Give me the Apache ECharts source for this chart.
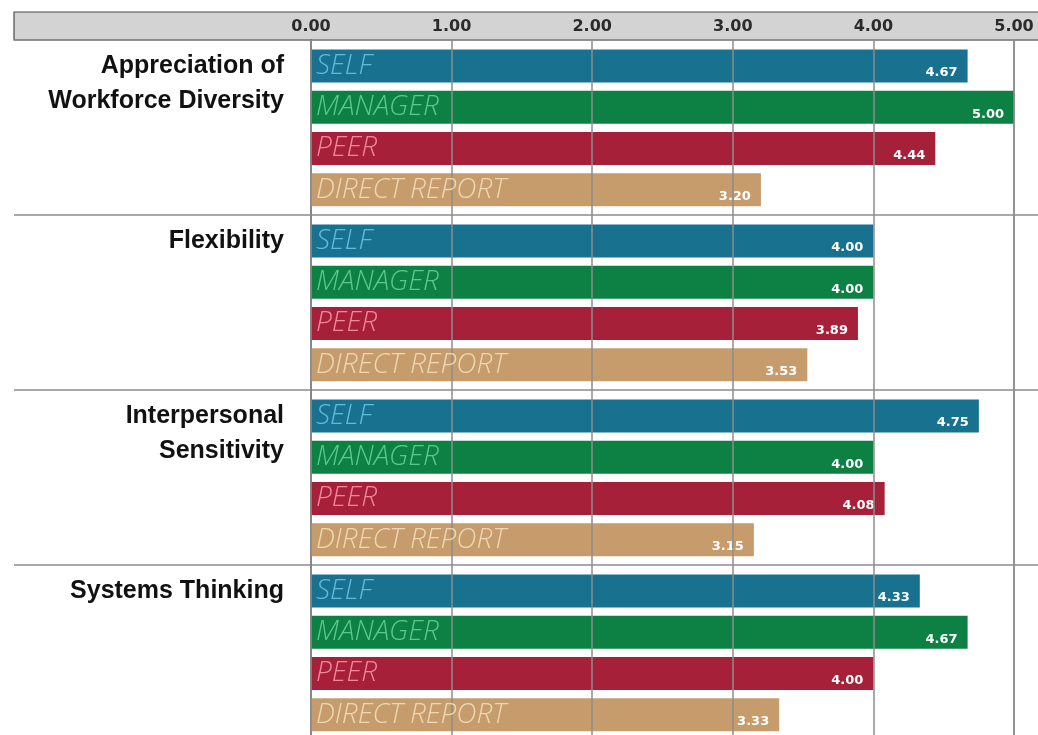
<!DOCTYPE html>
<html>
<head>
<meta charset="utf-8">
<title>Competency Ratings by Rater Group</title>
<script src="https://cdn.jsdelivr.net/npm/echarts@6/dist/echarts.min.js"></script>
<style>
  html, body { margin: 0; padding: 0; background: #ffffff; }
  #chart { width: 1038px; height: 735px; }
</style>
</head>
<body>
<div id="chart"></div>
<script>
// Competency groups and rater types
const competencies = ['Appreciation of\nWorkforce Diversity', 'Flexibility', 'Interpersonal\nSensitivity', 'Systems Thinking'];
const raters = ['SELF', 'MANAGER', 'PEER', 'DIRECT REPORT'];

// Average score per competency, one array per rater type
const selfScores = [4.67, 4.00, 4.75, 4.33];
const managerScores = [5.00, 4.00, 4.00, 4.67];
const peerScores = [4.44, 3.89, 4.08, 4.00];
const directReportScores = [3.20, 3.53, 3.15, 3.33];

// Scale ticks
const tickValues = [0, 1, 2, 3, 4, 5];

const scoresByRater = [selfScores, managerScores, peerScores, directReportScores];
const barColors = ['#18718f', '#0d8044', '#a52038', '#c69c6d'];
const nameColors = ['#62b9de', '#5fc78d', '#f3889d', '#eed8b2'];

// Layout
const PLOT_LEFT = 311;
const PLOT_RIGHT = 24;
const HEADER_TOP = 12;
const HEADER_BOTTOM = 40;
const GROUP_H = 175;
const BAR_PAD = 5.4;
const BAR_AREA_H = 165;
const TITLE_RIGHT_X = 284;
const GRID_COLOR = '#8c8c8c';

const chart = echarts.init(document.getElementById('chart'), null, { renderer: 'canvas' });

// Grid 0 carries the scale header, vertical grid lines and group separators
const grids = [{
  left: PLOT_LEFT, right: PLOT_RIGHT, top: HEADER_BOTTOM,
  height: GROUP_H * competencies.length,
  outerBoundsMode: 'none'
}];
const xAxes = [{
  gridIndex: 0,
  type: 'value',
  position: 'top',
  min: tickValues[0],
  max: tickValues[tickValues.length - 1],
  interval: tickValues[1] - tickValues[0],
  z: 5,
  axisLine: { show: false },
  axisTick: { show: false },
  axisLabel: {
    margin: 5,
    formatter: v => v.toFixed(2),
    fontFamily: 'DejaVu Sans',
    fontWeight: 'bold',
    fontSize: 16,
    color: '#2b2b2b'
  },
  splitLine: { show: true, lineStyle: { color: GRID_COLOR, width: 1.5 } }
}];
const yAxes = [
  {
    gridIndex: 0,
    type: 'category',
    data: competencies,
    inverse: true,
    axisLine: { show: true, lineStyle: { color: '#4a4a4a', width: 1.5 } },
    axisTick: { show: true, length: PLOT_LEFT - 14, lineStyle: { color: GRID_COLOR, width: 1.5 } },
    axisLabel: { show: false },
    splitLine: { show: true, lineStyle: { color: GRID_COLOR, width: 1.5 } }
  },
  {
    gridIndex: 0,
    type: 'category',
    position: 'right',
    data: competencies,
    inverse: true,
    axisLine: { show: true, lineStyle: { color: GRID_COLOR, width: 1.5 } },
    axisTick: { show: true, length: PLOT_RIGHT, lineStyle: { color: GRID_COLOR, width: 1.5 } },
    axisLabel: { show: false },
    splitLine: { show: false }
  }
];
const series = [];
const titles = [];

const richNames = {};
nameColors.forEach((c, k) => {
  richNames['r' + k] = {
    color: c,
    fontFamily: 'Open Sans',
    fontStyle: 'italic',
    fontWeight: 300,
    fontSize: 28
  };
});

// One grid per competency holds its four rater bars
competencies.forEach((comp, i) => {
  const gi = i + 1;
  grids.push({
    left: PLOT_LEFT, right: PLOT_RIGHT,
    top: HEADER_BOTTOM + BAR_PAD + GROUP_H * i, height: BAR_AREA_H,
    outerBoundsMode: 'none'
  });
  xAxes.push({ gridIndex: gi, type: 'value', min: 0, max: 5, show: false });
  yAxes.push({
    gridIndex: gi,
    type: 'category',
    data: raters,
    inverse: true,
    z: 10,
    axisLine: { show: false },
    axisTick: { show: false },
    splitLine: { show: false },
    axisLabel: {
      inside: true,
      margin: 5,
      formatter: (v, idx) => '{r' + idx + '|' + v + '}',
      rich: richNames
    }
  });
  series.push({
    type: 'bar',
    xAxisIndex: xAxes.length - 1,
    yAxisIndex: yAxes.length - 1,
    barWidth: 33,
    silent: true,
    data: raters.map((r, k) => ({
      value: scoresByRater[k][i],
      itemStyle: { color: barColors[k] }
    })),
    label: {
      show: true,
      position: 'insideRight',
      distance: 10,
      offset: [0, 7],
      formatter: p => p.value.toFixed(2),
      color: '#ffffff',
      fontFamily: 'DejaVu Sans',
      fontWeight: 'bold',
      fontSize: 13
    }
  });
  titles.push({
    text: comp,
    left: TITLE_RIGHT_X,
    top: 49 + GROUP_H * i,
    textAlign: 'right',
    padding: 0,
    textStyle: {
      fontFamily: 'Liberation Sans',
      fontWeight: 'bold',
      fontSize: 25,
      lineHeight: 35,
      color: '#111111'
    }
  });
});

chart.setOption({
  animation: false,
  backgroundColor: '#ffffff',
  title: titles,
  graphic: [{
    type: 'rect',
    z: -10,
    shape: { x: 14, y: HEADER_TOP, width: 1040, height: HEADER_BOTTOM - HEADER_TOP },
    style: { fill: '#d3d3d3', stroke: '#4a4a4a', lineWidth: 1.2 }
  }],
  grid: grids,
  xAxis: xAxes,
  yAxis: yAxes,
  series: series
});
</script>
</body>
</html>
